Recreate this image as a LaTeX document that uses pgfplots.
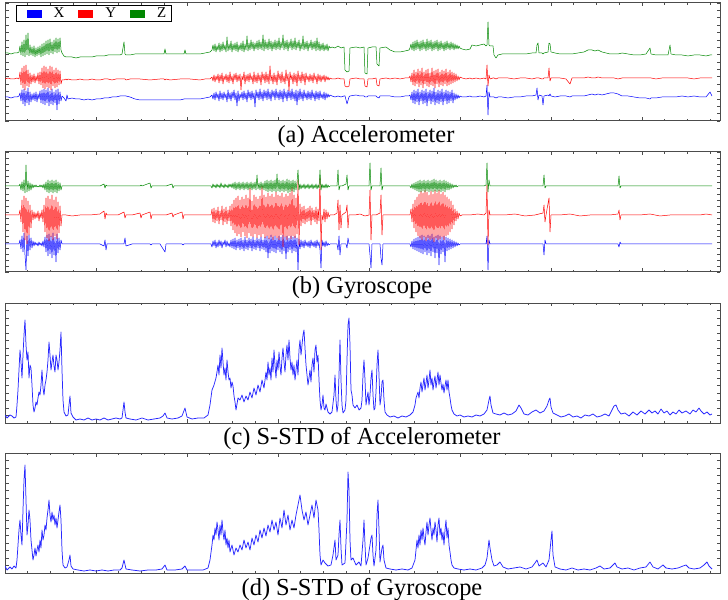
\documentclass[border=0pt]{standalone}
\usepackage{pgfplots}
\usepackage{pgfplotstable}
\usepackage{fontspec}
\setmainfont{Liberation Serif}
\pgfplotsset{compat=1.18}
\definecolor{zgreen}{RGB}{0,135,0}
\definecolor{sblue}{RGB}{40,40,255}
\pgfplotstableread{
x X Y Z
5 97 79 53
8 97 78 53
11 98 79 54
14 97 79 53
17 97 78 53
19 96 79 52
20 93 72 46
21 101 85 55
22 90 68 42
23 104 88 56
24 89 66 40
25 106 90 57
26 91 65 35
27 103 86 55
28 88 70 33
29 105 87 56
30 92 73 45
31 102 84 55
32 94 75 47
33 100 82 56
34 93 74 46
35 101 83 57
36 92 76 48
37 102 81 56
38 94 73 47
39 99 84 55
40 91 72 46
41 103 85 57
42 90 68 44
43 104 88 56
44 89 66 43
45 105 89 55
46 90 67 41
47 103 87 54
48 88 69 40
49 106 88 55
50 91 66 39
51 104 90 53
52 89 67 42
53 105 86 54
54 92 70 40
55 103 88 52
56 90 68 38
57 110 87 53
58 89 70 39
59 104 85 52
60 92 71 38
61 101 84 50
62 96 80 53
64 98 80 56
66 101 79 57
67 95 80 57
68 99 79 57
72 98 80 57
76 99 80 58
80 99 79 57
84 100 80 57
88 99 80 57
92 100 79 57
96 99 80 56
100 99 80 56
104 98 79 56
108 98 79 55
112 97 80 55
116 97 79 55
120 96 79 55
122 96 79 54
124 96 79 42
125 96 79 54
126 96 80 55
130 97 79 55
135 99 79 54
140 100 79 54
150 100 80 54
160 100 79 54
164 100 79 54
165 100 80 49
166 100 79 54
170 100 80 54
180 100 79 54
184 99 79 54
185 99 79 50
186 99 79 54
190 99 79 54
200 99 80 54
205 98 79 53
210 97 79 52
212 95 77 50
213 99 81 45
214 93 75 51
215 100 82 44
216 92 76 52
217 98 80 46
218 94 74 50
219 101 83 43
220 91 75 52
221 99 81 44
222 93 73 51
223 100 84 42
224 92 76 50
225 98 80 45
226 94 74 52
227 102 82 37
228 90 75 51
229 99 83 44
230 93 72 50
231 101 81 41
232 92 76 52
233 98 84 44
234 90 74 50
235 100 80 43
236 93 73 51
237 106 82 42
238 91 75 52
239 101 81 45
240 94 74 50
241 98 90 43
242 92 76 51
243 100 80 41
244 91 72 52
245 99 84 44
246 93 75 50
247 102 81 36
248 90 74 51
249 98 82 43
250 92 73 50
251 100 80 40
252 91 76 49
253 99 84 42
254 93 72 51
255 107 82 43
256 90 75 49
257 98 83 41
258 92 73 50
259 100 81 40
260 89 75 49
261 99 85 42
262 92 72 50
263 101 80 35
264 90 74 51
265 98 83 40
266 91 72 49
267 100 82 42
268 89 74 50
269 99 84 39
270 92 66 49
271 101 81 41
272 90 75 51
273 97 84 42
274 91 73 49
275 100 82 40
276 89 75 50
277 98 85 41
278 92 71 49
279 100 80 38
280 90 74 50
281 99 83 42
282 91 72 48
283 102 82 35
284 89 76 50
285 98 84 41
286 92 70 49
287 101 81 40
288 90 74 51
289 98 91 42
290 91 72 48
291 100 80 39
292 89 75 50
293 99 84 41
294 92 73 49
295 101 82 38
296 90 74 50
297 105 86 42
298 91 71 48
299 100 81 40
300 89 75 51
301 99 83 43
302 92 72 49
303 101 81 36
304 90 74 50
305 98 85 42
306 93 73 49
307 100 80 41
308 91 76 51
309 99 82 43
310 92 74 48
311 100 81 40
312 90 75 50
313 98 83 42
314 93 73 49
315 101 80 41
316 91 76 51
317 99 84 38
318 92 74 50
319 100 81 42
320 91 75 51
321 98 82 44
322 94 76 50
323 99 80 43
324 92 75 51
325 100 82 45
326 93 76 50
327 98 80 44
328 94 77 51
329 97 80 46
330 95 78 48
332 96 79 47
335 97 79 48
338 96 78 46
341 97 79 48
344 96 79 47
345 96 86 70
347 104 87 72
349 97 86 71
350 96 79 48
356 95 78 47
360 96 79 48
364 96 79 47
365 97 86 73
367 97 87 74
368 96 79 48
372 96 79 47
376 96 78 47
377 97 85 64
379 98 86 66
380 96 79 48
386 96 78 47
390 96 79 50
395 97 78 52
400 97 79 52
405 96 78 51
409 96 78 50
410 95 76 48
411 100 82 44
412 92 73 50
413 103 85 42
414 90 70 51
415 104 86 41
416 91 72 50
417 102 84 40
418 89 69 49
419 105 87 42
420 92 71 51
421 101 85 41
422 90 68 50
423 104 88 40
424 91 72 49
425 103 84 42
426 89 70 51
427 106 86 39
428 92 69 50
429 101 87 41
430 90 73 49
431 104 85 40
432 91 68 51
433 102 86 42
434 88 71 50
435 105 88 41
436 92 70 49
437 103 84 40
438 90 69 51
439 104 87 42
440 91 72 50
441 102 85 41
442 89 70 49
443 105 86 43
444 92 71 51
445 101 84 42
446 90 69 50
447 104 86 41
448 91 72 49
449 103 85 43
450 92 70 50
451 101 84 42
452 90 72 49
453 103 83 43
454 93 73 50
455 100 82 44
456 94 74 49
457 99 81 45
458 95 76 49
459 98 80 46
460 96 77 48
462 97 78 49
466 97 79 50
470 96 78 49
472 97 79 45
476 97 78 46
480 96 79 45
484 97 78 44
486 96 79 46
487 85 65 45
488 115 86 22
489 92 75 45
490 97 79 46
493 97 78 46
494 97 78 55
496 98 79 58
498 97 78 55
502 97 78 54
508 98 78 54
514 97 79 54
520 97 78 54
526 96 78 54
532 96 79 53
536 95 78 53
537 88 78 45
538 100 78 43
539 95 78 53
542 96 79 53
543 105 79 54
544 96 78 53
548 95 78 52
549 96 68 43
550 94 81 44
551 96 78 52
555 97 78 53
560 96 78 54
566 96 79 54
570 97 84 54
572 96 78 54
578 96 78 53
584 96 78 52
588 95 77 50
592 94 78 50
595 95 78 51
598 94 77 50
602 95 78 52
606 94 78 53
610 93 78 54
614 93 78 54
618 94 79 54
622 96 78 53
628 96 78 54
634 97 78 55
640 98 78 55
646 98 78 54
650 99 78 48
651 98 78 54
656 98 79 55
662 97 78 55
668 97 78 55
670 97 78 45
671 97 78 54
676 97 78 55
682 96 78 55
688 97 78 56
694 96 79 55
700 97 78 55
706 97 78 56
710 92 78 55
712 96 78 55
}\tA
\pgfplotstableread{
x X Y Z
5 244 215 186
10 244 215 186
15 244 215 186
19 244 215 186
20 240 210 184
21 249 222 190
22 236 200 182
23 252 232 191
24 233 196 180
25 255 240 193
26 270 198 165
27 236 244 192
28 256 201 181
29 235 235 191
30 250 205 183
31 238 228 190
32 248 210 184
33 241 220 188
34 246 212 185
35 242 219 187
36 245 213 185
37 243 218 187
38 246 211 186
39 242 221 187
40 245 213 185
41 243 218 187
42 246 210 185
43 241 222 188
44 247 205 184
45 237 232 190
46 252 198 182
47 235 238 192
48 256 196 180
49 234 241 193
50 254 199 181
51 236 237 192
52 258 195 180
53 233 240 193
54 255 200 181
55 237 236 192
56 262 197 180
57 234 239 193
58 253 202 182
59 238 233 191
60 250 206 183
61 240 226 190
62 244 215 186
66 244 215 186
72 244 216 186
80 244 215 186
90 244 215 186
100 244 214 186
104 246 211 184
105 240 219 188
106 250 213 185
107 244 215 186
110 244 215 186
118 244 215 186
124 244 212 186
125 238 218 186
126 246 215 186
132 244 215 186
140 244 213 186
141 244 218 185
142 244 215 186
150 244 212 183
151 245 219 188
152 244 215 186
160 244 215 186
165 252 215 186
166 244 215 186
172 244 213 184
173 244 217 188
174 244 215 186
182 244 212 186
183 245 219 186
184 244 215 186
195 244 215 186
205 244 215 186
210 244 215 186
211 244 215 186
212 247 209 188
213 241 222 184
214 246 208 187
215 240 223 185
216 248 210 188
217 242 221 184
218 247 207 187
219 240 224 185
220 246 211 188
221 241 220 183
222 248 206 187
223 242 225 185
224 245 209 188
225 240 222 184
226 247 207 187
227 241 224 185
228 246 210 188
229 243 221 184
230 247 206 187
231 240 226 184
232 248 204 188
233 239 230 183
234 249 200 189
235 238 233 182
236 250 198 190
237 240 236 183
238 248 196 189
239 239 234 182
240 250 200 190
241 238 237 183
242 249 197 189
243 240 232 182
244 251 199 190
245 237 236 183
246 249 195 189
247 240 238 182
248 250 198 190
249 238 233 183
250 248 188 189
251 239 236 182
252 251 201 190
253 237 237 183
254 249 195 189
255 240 234 182
256 250 197 190
257 238 238 175
258 248 199 189
259 239 235 183
260 251 196 190
261 237 237 182
262 249 186 189
263 240 234 183
264 250 195 190
265 237 238 181
266 252 197 191
267 236 236 180
268 258 193 192
269 238 239 181
270 253 196 191
271 235 237 180
272 251 194 192
273 237 240 181
274 252 197 191
275 236 236 180
276 253 192 192
277 238 238 174
278 250 195 191
279 236 240 180
280 252 196 192
281 237 235 181
282 254 193 191
283 235 247 180
284 251 197 192
285 237 237 181
286 259 194 191
287 236 240 179
288 252 196 193
289 238 236 180
290 250 193 192
291 236 239 181
292 253 187 191
293 237 236 180
294 251 195 192
295 236 238 181
296 252 198 190
297 238 234 182
298 270 180 170
299 239 245 190
300 249 204 184
301 240 226 189
302 247 207 185
303 241 223 188
304 248 206 184
305 240 224 189
306 246 209 185
307 242 222 188
308 247 208 184
309 241 221 189
310 248 206 185
311 240 225 188
312 246 208 184
313 242 220 189
314 247 210 185
315 241 222 188
316 248 207 184
317 240 224 189
318 246 209 185
319 242 221 188
320 250 178 170
321 268 250 190
322 240 215 184
323 246 220 188
324 242 209 185
325 247 222 188
326 241 210 184
327 246 219 188
328 243 212 185
329 245 217 187
330 244 215 186
334 244 215 186
337 244 213 186
338 250 200 170
339 236 230 190
340 255 205 186
341 244 228 186
342 244 215 186
346 244 212 184
347 248 205 175
348 238 228 190
349 244 215 186
355 244 215 186
360 244 214 186
365 244 216 186
369 244 215 186
370 255 190 163
371 268 240 190
372 244 215 186
376 244 215 186
380 244 213 186
381 258 195 168
382 265 235 190
383 244 215 186
390 244 215 186
396 244 215 186
402 244 215 186
408 244 215 186
410 244 215 186
411 247 209 188
412 241 222 184
413 249 204 189
414 239 228 183
415 250 200 190
416 238 232 182
417 251 197 191
418 237 236 181
419 252 194 192
420 236 238 180
421 253 191 192
422 235 240 181
423 254 193 191
424 236 237 180
425 252 190 192
426 237 241 181
427 255 192 191
428 235 238 180
429 253 195 192
430 236 240 181
431 256 191 191
432 234 239 180
433 252 194 192
434 237 242 179
435 258 190 191
436 236 238 180
437 253 193 192
438 235 240 181
439 265 190 191
440 236 239 180
441 254 194 192
442 237 237 181
443 252 192 191
444 236 240 180
445 262 195 192
446 237 236 181
447 251 197 190
448 238 235 182
449 250 199 190
450 239 232 183
451 249 201 189
452 240 229 184
453 248 205 188
454 241 225 185
455 247 209 187
456 242 221 185
457 246 211 187
458 243 219 186
459 245 213 186
460 244 216 186
462 244 215 186
470 244 215 186
478 244 214 186
484 244 215 186
486 244 213 185
487 236 185 163
488 270 245 192
489 240 210 180
490 244 215 186
496 244 215 186
505 244 215 186
515 244 214 186
525 244 216 186
535 244 215 186
543 244 213 186
544 255 205 175
545 240 222 188
546 244 215 186
549 244 198 186
550 244 232 186
551 244 215 186
560 244 215 186
570 244 214 186
580 244 216 186
590 244 215 186
600 244 215 186
610 244 215 186
618 244 214 186
619 247 210 176
620 242 220 188
621 244 215 186
630 244 215 186
640 244 215 186
650 244 214 186
660 244 216 186
670 244 215 186
680 244 215 186
690 244 215 186
700 244 215 186
706 244 214 186
712 244 215 186
}\tB
\pgfplotsset{
  panel/.style={
    scale only axis, width=715bp, anchor=south west,
    xmin=5, xmax=720, y dir=reverse,
    axis line style={black!70, line width=1pt},
    tick style={black!70, line width=0.6pt},
    major tick length=3.5bp, minor tick length=2bp,
    tick align=inside, tick pos=both,
    xtick={5,96,187,278,369,460,551,642},
    minor xtick={27.75,50.5,73.25,118.75,141.5,164.25,209.75,232.5,255.25,300.75,323.5,346.25,391.75,414.5,437.25,482.75,505.5,528.25,573.75,596.5,619.25,664.75,687.5,710.25},
    xticklabels={}, yticklabels={},
    every axis plot/.append style={line join=round},
  },
}
\begin{document}
\begin{tikzpicture}
\useasboundingbox (0,0) rectangle (728bp,600bp);
% (a)
\begin{axis}[panel, at={(5bp,479bp)}, height=118bp, ymin=3, ymax=121,
  ytick={3,10.375,...,121},
  legend columns=3,
  legend style={draw=black, line width=1.3pt, at={(0.0154,0.985)}, anchor=north west,
    font=\fontsize{15}{15}\selectfont, inner xsep=3bp, inner ysep=0.5bp,
    /tikz/every even column/.append style={column sep=5bp}},
  legend image code/.code={\path[draw=none,fill=none] (-7bp,0bp) -- (25bp,0bp);\fill[#1,draw=none] (0bp,-4bp) rectangle (15bp,4bp);}]
\addplot[blue, line width=0.5pt] table[x=x,y=X]{\tA};
\addplot[red, line width=0.5pt] table[x=x,y=Y]{\tA};
\addplot[zgreen, line width=0.5pt] table[x=x,y=Z]{\tA};
\legend{X,Y,Z}
\end{axis}
% (b)
\begin{axis}[panel, at={(5bp,328bp)}, height=120bp, ymin=152, ymax=272,
  ytick={152,158,...,272}]
\addplot[blue, line width=0.5pt] table[x=x,y=X]{\tB};
\addplot[red, line width=0.5pt] table[x=x,y=Y]{\tB};
\addplot[zgreen, line width=0.5pt] table[x=x,y=Z]{\tB};
\end{axis}
% (c)
\begin{axis}[panel, at={(5bp,177bp)}, height=120bp, ymin=303, ymax=423,
  ytick={303,310.5,...,423}]
\addplot[sblue, line width=0.75pt] coordinates {
(5,415)(7,418)(10,415)(12,416)(14,418)(16,417)(17,405)(18,390)(19,370)(20,350)(21,362)(22,378)(23,355)(24,335)(25,320)(26,345)(27,360)(28,352)(29,378)(30,365)(31,368)(32,385)(33,405)(34,412)(35,408)(36,402)(37,405)(38,398)(39,392)(40,395)(41,385)(42,370)(43,388)(44,395)(45,385)(46,380)(47,372)(48,360)(49,342)(50,355)(51,370)(52,362)(53,355)(54,366)(55,372)(56,355)(57,360)(58,370)(59,362)(60,350)(61,332)(62,370)(63,400)(64,412)(66,416)(68,415)(69,405)(70,396)(71,413)(73,417)(76,420)(80,419)(84,420)(88,418)(92,420)(96,419)(100,420)(104,418)(108,420)(112,419)(116,418)(120,419)(122,418)(123,410)(124,402)(125,412)(126,418)(130,419)(136,420)(142,418)(148,420)(154,419)(160,418)(163,416)(165,413)(167,418)(172,419)(178,418)(182,416)(185,408)(187,417)(192,419)(198,418)(204,418)(208,415)(210,405)(212,390)(214,385)(216,378)(217,372)(218,365)(219,375)(220,355)(221,368)(222,348)(223,362)(224,375)(225,368)(226,380)(227,360)(228,372)(229,380)(230,378)(231,388)(232,382)(233,386)(234,396)(235,402)(236,410)(237,404)(238,398)(240,400)(242,395)(244,402)(246,396)(248,400)(250,392)(252,398)(254,388)(256,395)(258,385)(260,392)(262,380)(264,388)(266,372)(267,380)(268,362)(269,375)(270,368)(271,380)(272,358)(273,372)(274,350)(275,365)(276,378)(277,360)(278,370)(279,352)(280,366)(281,375)(282,358)(283,348)(284,362)(285,372)(286,355)(287,345)(288,360)(289,340)(290,358)(291,370)(292,362)(293,375)(294,365)(295,380)(296,370)(297,360)(298,375)(299,350)(300,340)(301,355)(302,345)(303,335)(304,330)(305,348)(306,365)(307,375)(308,385)(309,378)(310,370)(311,382)(312,365)(313,358)(314,372)(315,350)(316,345)(317,362)(318,355)(319,380)(320,400)(321,410)(322,405)(323,395)(324,408)(325,410)(326,404)(328,412)(330,414)(332,412)(334,395)(335,375)(336,400)(337,412)(338,405)(339,375)(340,340)(341,380)(342,405)(343,413)(345,410)(346,400)(347,360)(348,325)(349,318)(350,345)(351,390)(352,395)(353,405)(355,408)(357,405)(359,410)(361,408)(362,400)(363,375)(364,360)(365,380)(366,405)(367,398)(368,392)(369,405)(370,395)(371,378)(372,370)(373,395)(374,410)(375,408)(376,392)(377,365)(378,350)(379,375)(380,405)(381,398)(382,382)(383,380)(384,400)(385,412)(387,415)(390,417)(394,416)(398,418)(402,416)(406,417)(410,415)(413,412)(415,405)(416,398)(417,395)(418,392)(419,398)(420,388)(421,382)(422,392)(423,385)(424,378)(425,390)(426,383)(427,375)(428,388)(429,380)(430,370)(431,385)(432,378)(433,390)(434,382)(435,376)(436,388)(437,380)(438,372)(439,385)(440,375)(441,383)(442,390)(443,384)(444,393)(445,386)(446,380)(447,390)(448,380)(449,392)(450,398)(451,405)(452,410)(454,414)(457,416)(460,415)(464,417)(468,416)(472,417)(476,415)(480,416)(484,414)(487,410)(489,400)(490,396)(491,405)(493,413)(496,414)(500,415)(504,413)(508,415)(512,414)(516,411)(519,405)(521,408)(524,414)(528,415)(532,412)(536,410)(540,413)(544,411)(547,406)(549,400)(550,398)(551,407)(553,413)(557,415)(561,417)(565,416)(569,414)(573,417)(577,416)(581,418)(585,415)(589,416)(593,414)(597,417)(601,416)(605,414)(609,416)(612,410)(614,406)(616,405)(618,410)(621,414)(625,413)(629,416)(633,412)(637,415)(641,411)(645,414)(649,410)(652,413)(655,411)(658,414)(661,409)(664,413)(667,411)(670,415)(673,412)(676,414)(679,410)(682,413)(686,411)(690,414)(693,410)(696,412)(699,408)(701,411)(704,414)(707,412)(710,415)(712,414)
};
\end{axis}
% (d)
\begin{axis}[panel, at={(5bp,27bp)}, height=120bp, ymin=453, ymax=573,
  ytick={453,460.5,...,573}]
\addplot[sblue, line width=0.75pt] coordinates {
(5,566)(7,570)(10,567)(12,569)(14,566)(16,568)(17,560)(18,545)(19,530)(20,520)(21,535)(22,545)(23,510)(24,480)(25,465)(26,500)(27,535)(28,525)(29,510)(30,520)(31,540)(32,550)(33,560)(34,555)(35,548)(36,556)(37,550)(38,545)(39,552)(40,540)(41,548)(42,530)(43,540)(44,535)(45,525)(46,530)(47,518)(48,510)(49,500)(50,515)(51,522)(52,512)(53,520)(54,515)(55,525)(56,518)(57,528)(58,520)(59,512)(60,505)(61,520)(62,550)(63,565)(65,568)(67,567)(69,560)(70,555)(71,566)(73,569)(78,570)(84,571)(90,570)(96,571)(102,570)(108,571)(114,570)(120,570)(122,568)(124,560)(126,569)(132,570)(140,571)(148,570)(156,570)(162,569)(165,565)(167,570)(175,570)(182,569)(185,566)(187,570)(195,570)(203,570)(208,568)(210,560)(212,545)(213,535)(214,540)(215,528)(216,535)(217,522)(218,530)(219,540)(220,525)(221,535)(222,520)(223,532)(224,540)(225,530)(226,545)(227,538)(228,548)(229,540)(230,552)(232,545)(234,555)(236,548)(238,552)(240,545)(242,550)(244,540)(246,548)(248,542)(250,550)(252,538)(254,545)(256,535)(258,542)(260,530)(262,538)(264,528)(266,536)(268,525)(270,532)(272,520)(274,530)(276,522)(278,535)(280,518)(282,528)(284,510)(286,525)(288,515)(290,530)(292,520)(294,528)(296,515)(298,505)(300,495)(302,510)(304,520)(306,512)(308,525)(310,515)(312,505)(314,518)(316,500)(318,510)(319,530)(320,555)(321,565)(323,560)(325,563)(328,566)(331,565)(333,555)(335,540)(336,560)(338,555)(339,535)(340,520)(341,548)(342,565)(345,563)(347,520)(348,472)(349,490)(350,540)(351,560)(353,558)(356,565)(359,562)(361,566)(363,540)(364,520)(365,545)(366,565)(368,558)(370,545)(371,538)(372,535)(373,555)(374,566)(376,550)(377,515)(378,500)(379,530)(380,562)(382,548)(383,545)(384,560)(386,568)(390,569)(396,570)(402,569)(408,570)(412,568)(415,560)(416,550)(417,540)(418,548)(419,535)(420,545)(421,530)(422,540)(423,528)(424,538)(425,545)(426,532)(427,522)(428,535)(429,525)(430,518)(431,530)(432,540)(433,528)(434,535)(435,522)(436,530)(437,542)(438,525)(439,518)(440,535)(441,528)(442,540)(443,532)(444,545)(445,530)(446,520)(447,538)(448,528)(449,545)(450,552)(451,560)(452,565)(454,568)(458,569)(464,570)(470,569)(476,570)(482,568)(485,565)(487,558)(489,540)(490,548)(492,560)(494,566)(497,565)(500,562)(503,567)(508,569)(514,568)(520,567)(526,569)(532,567)(535,563)(537,560)(539,566)(543,563)(546,567)(549,560)(551,540)(552,531)(553,555)(555,567)(560,569)(566,570)(572,568)(578,570)(584,569)(590,570)(596,568)(600,566)(604,569)(610,568)(613,565)(615,563)(617,567)(622,569)(628,568)(634,570)(640,568)(646,567)(650,562)(653,567)(658,569)(663,565)(666,568)(672,569)(678,568)(683,566)(686,565)(689,568)(694,569)(700,568)(704,565)(707,562)(709,566)(712,569)
};
\end{axis}
\node[anchor=base, font=\fontsize{24.5}{24.5}\selectfont] at (366bp,457bp) {(a) Accelerometer};
\node[anchor=base, font=\fontsize{24.5}{24.5}\selectfont] at (362bp,306bp) {(b) Gyroscope};
\node[anchor=base, font=\fontsize{24.5}{24.5}\selectfont] at (362bp,155bp) {(c) S-STD of Accelerometer};
\node[anchor=base, font=\fontsize{24.5}{24.5}\selectfont] at (362bp,5bp) {(d) S-STD of Gyroscope};
\end{tikzpicture}
\end{document}
